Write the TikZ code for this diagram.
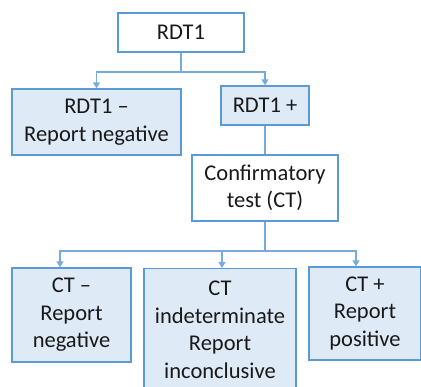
\documentclass[tikz,border=0pt]{standalone}
\usepackage{fontspec}
\setmainfont{Carlito}
\usetikzlibrary{arrows.meta}
\definecolor{boxline}{RGB}{91,155,213}
\definecolor{boxfill}{RGB}{222,235,247}
\definecolor{linkline}{RGB}{120,170,222}
\tikzset{
  box/.style={draw=boxline,line width=1.4pt,align=center,inner sep=2pt,
    font=\fontsize{22.5}{27.5}\selectfont,text=black!90},
  result/.style={box,fill=boxfill},
  arr/.style={draw=linkline,line width=1.2pt,-{Triangle[width=7pt,length=6pt]}},
  link/.style={draw=linkline,line width=1.2pt}
}
\begin{document}
\begin{tikzpicture}[x=1pt,y=-1pt]
\useasboundingbox (0,0) rectangle (421,387);
\clip (0,0) rectangle (421,387);
\node[box,minimum width=126pt,minimum height=39pt] (rdt) at (181,32.5) {RDT1};
\node[result,minimum width=169pt,minimum height=66pt] (neg) at (96.5,122) {RDT1 \textendash\\Report negative};
\node[result,minimum width=88pt,minimum height=39pt] (pos) at (265,105.5) {RDT1 +};
\node[box,minimum width=146pt,minimum height=66pt] (ct) at (265,188) {Confirmatory\\test (CT)};
\node[result,minimum width=119pt,minimum height=94pt] (ctneg) at (71.5,315) {CT \textendash\\Report\\negative};
\node[result,minimum width=152pt,minimum height=122pt,anchor=north] (ctind) at (220,268) {CT\\indeterminate\\Report\\inconclusive};
\node[result,minimum width=112pt,minimum height=93pt] (ctpos) at (365,313.5) {CT +\\Report\\positive};
% first split
\coordinate (split1) at (181,72);
\draw[link] (rdt.south) -- (split1);
\draw[arr] (split1) -| (neg.north);
\draw[arr] (split1) -| (pos.north);
\draw[link] (pos.south) -- (ct.north);
% second split
\coordinate (split2) at (265,251);
\draw[link] (ct.south) -- (split2);
\draw[arr] (split2) -| ([xshift=-11.5pt]ctneg.north);
\draw[arr] (split2) -| ([xshift=2pt]ctind.north);
\draw[arr] (split2) -| ([xshift=-9pt]ctpos.north);
\end{tikzpicture}
\end{document}
